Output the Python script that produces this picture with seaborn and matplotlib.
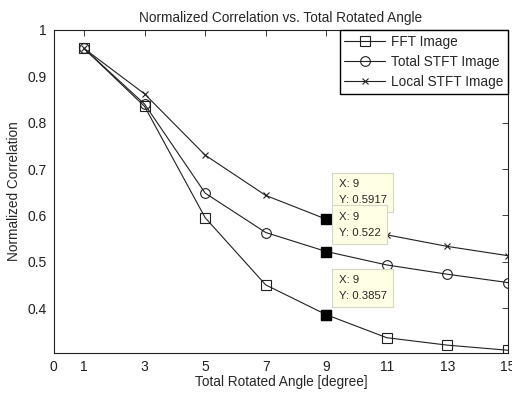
import pandas as pd
import seaborn as sns
import matplotlib.pyplot as plt

angles = [1, 3, 5, 7, 9, 11, 13, 15]
fft_image = [0.96, 0.835, 0.595, 0.45, 0.3857, 0.336, 0.32, 0.309]
total_stft = [0.96, 0.84, 0.648, 0.563, 0.522, 0.493, 0.473, 0.455]
local_stft = [0.96, 0.862, 0.73, 0.643, 0.5917, 0.558, 0.533, 0.513]
series_names = ['FFT Image', 'Total STFT Image', 'Local STFT Image']
series_markers = ['s', 'o', 'x']
tip_values = [0.5917, 0.522, 0.3857]
tip_x = 9

sns.set_style('white')
plt.rcParams['font.family'] = ['Liberation Sans', 'DejaVu Sans']

df = pd.DataFrame({
    'angle': angles * 3,
    'corr': fft_image + total_stft + local_stft,
    'series': sum([[n] * len(angles) for n in series_names], []),
})

fig = plt.figure(figsize=(5.12, 3.94), dpi=100)
ax = fig.add_axes([0.105, 0.104, 0.887, 0.82])

for name, mk, ms in zip(series_names, series_markers, [7.5, 7, 4]):
    sns.lineplot(data=df[df.series == name], x='angle', y='corr', color='#202020',
                 marker=mk, markersize=ms, markerfacecolor='none',
                 markeredgecolor='#202020', markeredgewidth=0.8, linewidth=0.8,
                 label=name, legend=False, ax=ax)

ax.legend(ax.get_lines(), series_names, loc='upper right', fontsize=9.8,
          fancybox=False, edgecolor='black', framealpha=1, borderaxespad=0.0,
          handlelength=3.0, handletextpad=0.4, labelspacing=0.45, borderpad=0.35)

# datatips
for i, yv in enumerate(tip_values):
    ax.plot([tip_x], [yv], marker='s', color='black', markersize=7, zorder=5)
    ax.annotate('X: %d\nY: %s' % (tip_x, yv), xy=(tip_x, yv),
                xytext=(9, 10), textcoords='offset points', ha='left', va='bottom',
                fontsize=8.2, linespacing=1.75, zorder=6 + i,
                bbox=dict(boxstyle='square,pad=0.55', fc='#ffffe6', ec='#d6d6c6', lw=0.8))

ax.set_xlim(0, 15)
ax.set_ylim(0.303, 1)
ax.set_xticks([0] + angles)
ax.set_xticklabels([str(a) for a in [0] + angles])
ax.set_yticks([0.4, 0.5, 0.6, 0.7, 0.8, 0.9, 1.0])
ax.set_yticklabels(['0.4', '0.5', '0.6', '0.7', '0.8', '0.9', '1'])
ax.tick_params(direction='in', top=True, right=True, length=4, width=0.6,
               labelsize=10, colors='#202020', pad=5)
for s in ax.spines.values():
    s.set_color('#202020')
    s.set_linewidth(0.8)

ax.set_title('Normalized Correlation vs. Total Rotated Angle', fontsize=9.8, pad=6)
ax.set_xlabel('Total Rotated Angle [degree]', fontsize=9.8, labelpad=1)
ax.set_ylabel('Normalized Correlation', fontsize=9.8, labelpad=5)

plt.savefig('out.png', dpi=100)
